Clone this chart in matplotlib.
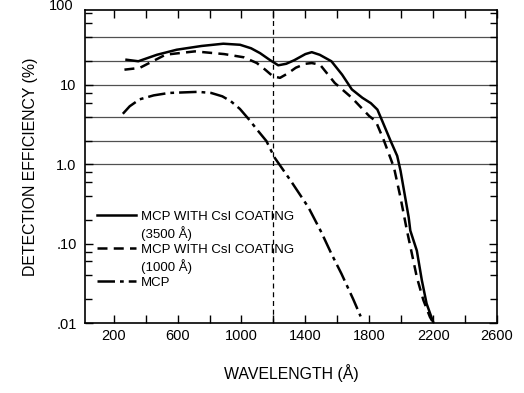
import matplotlib
matplotlib.use('Agg')
import matplotlib.pyplot as plt
from matplotlib.lines import Line2D
from matplotlib.ticker import FixedLocator, NullFormatter

plt.rcParams['font.family'] = ['Liberation Sans', 'DejaVu Sans']

# Detection efficiency (%) vs wavelength (Angstrom)
csi3500_wl = [280, 354, 470, 594, 750, 886, 991, 1060, 1116, 1180, 1230, 1280,
              1330, 1400, 1440, 1490, 1563, 1630, 1691, 1757, 1810, 1851, 1882,
              1934, 1975, 1996, 2047, 2057, 2098, 2129, 2159, 2200]
csi3500_eff = [20.8, 19.9, 24.0, 27.8, 31.0, 33.1, 32.1, 29.0, 25.2, 20.5, 17.7, 18.5,
               20.5, 24.5, 25.9, 24.0, 19.9, 13.5, 8.8, 6.9, 5.9, 4.9, 3.5,
               1.97, 1.28, 0.83, 0.215, 0.147, 0.082, 0.035, 0.0177, 0.0104]

csi1000_wl = [267, 362, 525, 708, 892, 1016, 1096, 1150, 1196, 1241, 1290, 1340,
              1400, 1440, 1492, 1584, 1691, 1800, 1841, 1893, 1955, 1996, 2036,
              2067, 2098, 2139, 2180, 2205]
csi1000_eff = [15.6, 16.4, 24.1, 26.5, 24.5, 22.3, 18.9, 15.5, 12.9, 12.3, 14.0, 16.5,
               18.5, 18.9, 18.0, 10.6, 6.9, 4.06, 3.5, 1.97, 0.91, 0.38, 0.147,
               0.075, 0.038, 0.0195, 0.012, 0.0098]

mcp_wl = [257, 300, 362, 450, 545, 728, 810, 880, 933, 990, 1046, 1100, 1156,
          1207, 1309, 1420, 1500, 1563, 1626, 1700, 1746]
mcp_eff = [4.34, 5.4, 6.6, 7.4, 7.94, 8.2, 7.94, 7.2, 6.25, 5.0, 3.7, 2.7, 1.97,
           1.22, 0.62, 0.286, 0.14, 0.075, 0.042, 0.02, 0.0122]

grid_levels = [40, 20, 10, 4, 2, 1]
cutoff_wl = 1200

x_major = [200, 600, 1000, 1400, 1800, 2200, 2600]
x_minor = list(range(200, 2601, 200))
y_major = [0.01, 0.1, 1, 10]
y_labels = ['.01', '.10', '1.0', '10']
y_minor = [m * d for d in [0.01, 0.1, 1, 10] for m in [2, 4, 6, 8]]

fig = plt.figure(figsize=(5.24, 3.93), dpi=100)
ax = fig.add_axes([0.1622, 0.1774, 0.7863, 0.7972])

for lev in grid_levels:
    ax.axhline(lev, color='#505050', lw=0.9, zorder=1)
ax.axvline(cutoff_wl, color='black', lw=0.9, ls=(0, (4, 3)), zorder=1)

l1, = ax.plot(csi3500_wl, csi3500_eff, color='black', lw=1.8, solid_joinstyle='round')
l2, = ax.plot(csi1000_wl, csi1000_eff, color='black', lw=1.8, ls=(0, (4, 2.5)))
l3, = ax.plot(mcp_wl, mcp_eff, color='black', lw=1.8, ls=(0, (7, 2, 1.5, 2)))

# frame is cut a little below 100 %, the "100" label sits just above it
ax.set_yscale('log')
ax.set_xlim(20, 2600)
ax.set_ylim(0.01, 88)

ax.xaxis.set_major_locator(FixedLocator(x_major))
ax.xaxis.set_minor_locator(FixedLocator(x_minor))
ax.yaxis.set_major_locator(FixedLocator(y_major))
ax.yaxis.set_minor_locator(FixedLocator(y_minor))
ax.set_yticklabels(y_labels)
ax.yaxis.set_minor_formatter(NullFormatter())
ax.tick_params(which='both', direction='in', top=True, right=True, width=1.0)
ax.tick_params(which='major', length=6, labelsize=10.5)
ax.tick_params(axis='y', which='major', pad=6)
ax.tick_params(axis='x', which='major', pad=4)
ax.tick_params(which='minor', length=5)
ax.tick_params(axis='x', which='minor', length=6)
for s in ax.spines.values():
    s.set_linewidth(1.2)

ax.text(-0.029, 100, '100', transform=ax.get_yaxis_transform(), ha='right',
        va='center', fontsize=10.5, clip_on=False)

ax.set_xlabel('WAVELENGTH (Å)', fontsize=11.4, labelpad=15)
ax.set_ylabel('DETECTION EFFICIENCY (%)', fontsize=11.4, labelpad=13)

blank = Line2D([], [], color='none')
ax.legend([l1, blank, l2, blank, l3],
          ['MCP WITH CsI COATING', '(3500 Å)', 'MCP WITH CsI COATING', '(1000 Å)', 'MCP'],
          loc='upper left', bbox_to_anchor=(0.028, 0.36), frameon=False,
          fontsize=9.5, handlelength=3.0, handletextpad=0.38, labelspacing=0.22,
          borderpad=0, borderaxespad=0)

fig.savefig('out.png', dpi=100)
